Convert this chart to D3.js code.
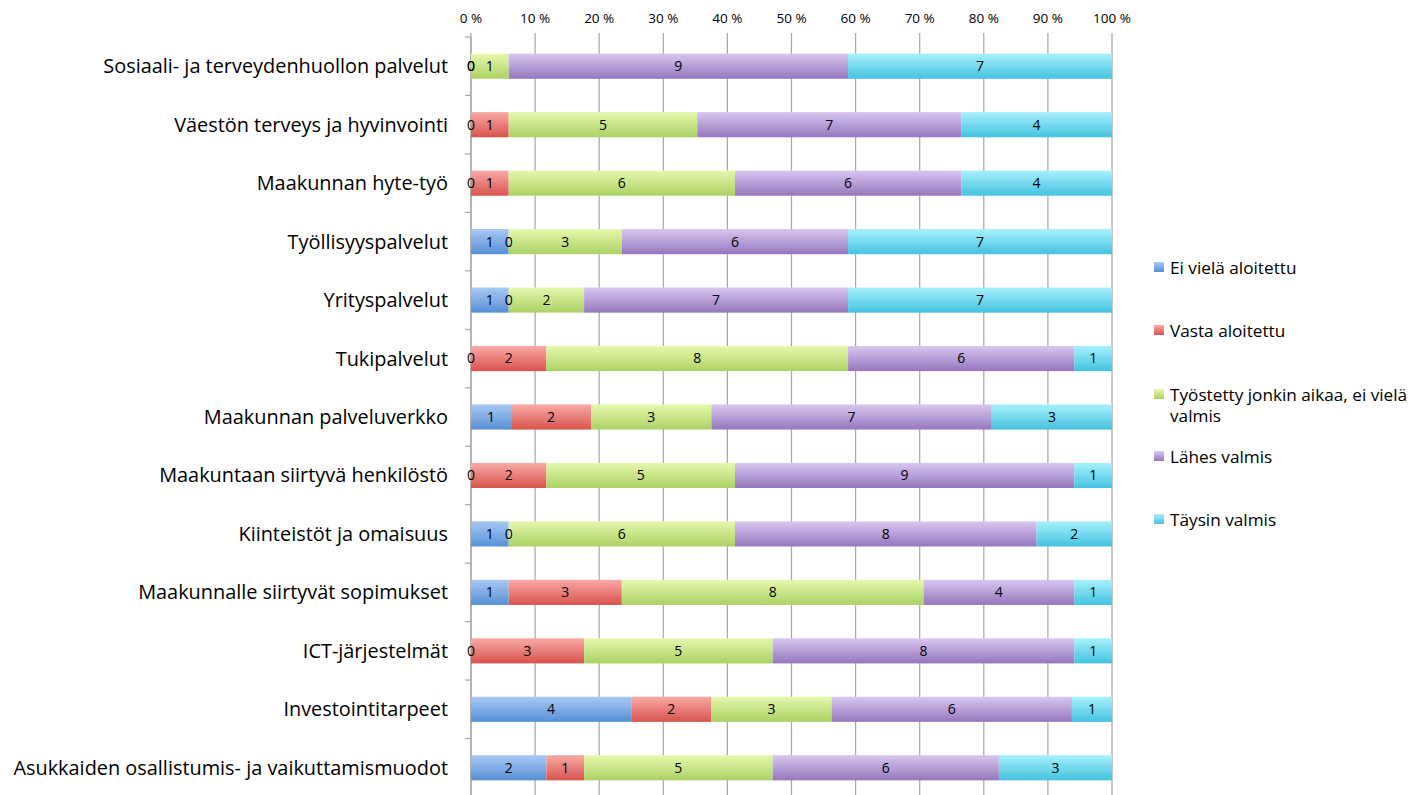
<!DOCTYPE html>
<html>
<head>
<meta charset="utf-8">
<script src="https://cdn.jsdelivr.net/npm/d3@7"></script>
<style>
  body { margin: 0; background: #fff; }
  text { font-family: "Open Sans", Lato, sans-serif; fill: #000; }
</style>
</head>
<body>
<div id="kaavio"></div>
<script>
const kategoriat = [
  "Sosiaali- ja terveydenhuollon palvelut",
  "Väestön terveys ja hyvinvointi",
  "Maakunnan hyte-työ",
  "Työllisyyspalvelut",
  "Yrityspalvelut",
  "Tukipalvelut",
  "Maakunnan palveluverkko",
  "Maakuntaan siirtyvä henkilöstö",
  "Kiinteistöt ja omaisuus",
  "Maakunnalle siirtyvät sopimukset",
  "ICT-järjestelmät",
  "Investointitarpeet",
  "Asukkaiden osallistumis- ja vaikuttamismuodot"
];
const sarjat = [
  "Ei vielä aloitettu",
  "Vasta aloitettu",
  "Työstetty jonkin aikaa, ei vielä valmis",
  "Lähes valmis",
  "Täysin valmis"
];
const eiVielaAloitettu = [0, 0, 0, 1, 1, 0, 1, 0, 1, 1, 0, 4, 2];
const vastaAloitettu   = [0, 1, 1, 0, 0, 2, 2, 2, 0, 3, 3, 2, 1];
const tyostetty        = [1, 5, 6, 3, 2, 8, 3, 5, 6, 8, 5, 3, 5];
const lahesValmis      = [9, 7, 6, 6, 7, 6, 7, 9, 8, 4, 8, 6, 6];
const taysinValmis     = [7, 4, 4, 7, 7, 1, 3, 1, 2, 1, 1, 1, 3];
const prosenttiTikit = [0, 10, 20, 30, 40, 50, 60, 70, 80, 90, 100];

// liukuvärit: [ylä, ala]
const varit = [
  ["#a9c8f3", "#5690d6"],
  ["#f8aaa6", "#d9534d"],
  ["#e6f8ad", "#acd164"],
  ["#d8c7f0", "#9577bd"],
  ["#a8f0fc", "#44c3df"]
];

const leveys = 1413, korkeus = 795;
const vasen = 471, oikea = 1112, yla = 37, ala = 797;

const arvot = [eiVielaAloitettu, vastaAloitettu, tyostetty, lahesValmis, taysinValmis];

const $svg = d3.select("#kaavio").append("svg")
  .attr("width", leveys)
  .attr("height", korkeus);

const defs = $svg.append("defs");
varit.forEach((v, i) => {
  const g = defs.append("linearGradient")
    .attr("id", "liuku" + i)
    .attr("x1", 0).attr("y1", 0).attr("x2", 0).attr("y2", 1);
  g.append("stop").attr("offset", "0%").attr("stop-color", v[0]);
  g.append("stop").attr("offset", "100%").attr("stop-color", v[1]);
});

const x = d3.scaleLinear().domain([0, 100]).range([vasen, oikea]);
const y = d3.scaleBand().domain(kategoriat).range([yla, ala]).paddingInner(0.57).paddingOuter(0.285);
const kaista = d3.scaleBand().domain(kategoriat).range([yla, ala]);

// pystyruudukko
$svg.append("g")
  .selectAll("line")
  .data(prosenttiTikit)
  .join("line")
  .attr("x1", d => x(d)).attr("x2", d => x(d))
  .attr("y1", yla - 4).attr("y2", ala)
  .attr("stroke", "#a6a6a6")
  .attr("stroke-width", 1.2);

// ylä-akselin tekstit
$svg.append("g")
  .selectAll("text")
  .data(prosenttiTikit)
  .join("text")
  .attr("x", d => x(d))
  .attr("y", 23)
  .attr("text-anchor", "middle")
  .attr("font-size", 13.5)
  .text(d => d + " %");

// vasen akseli
$svg.append("line")
  .attr("x1", vasen).attr("x2", vasen)
  .attr("y1", yla).attr("y2", ala)
  .attr("stroke", "#a6a6a6").attr("stroke-width", 1.2);
$svg.append("g")
  .selectAll("line")
  .data(kategoriat)
  .join("line")
  .attr("x1", vasen - 6).attr("x2", vasen)
  .attr("y1", d => kaista(d)).attr("y2", d => kaista(d))
  .attr("stroke", "#a6a6a6").attr("stroke-width", 1.2);

// pinotut palkit
const pinot = kategoriat.map((k, i) => {
  const summa = d3.sum(arvot, a => a[i]);
  let kertyma = 0;
  return arvot.map((a, s) => {
    const alku = kertyma;
    kertyma += a[i];
    return { kategoria: k, sarja: s, arvo: a[i], alku: alku / summa * 100, loppu: kertyma / summa * 100 };
  });
});

const rivit = $svg.append("g")
  .selectAll("g")
  .data(pinot)
  .join("g");

rivit.selectAll("rect")
  .data(d => d)
  .join("rect")
  .attr("x", d => x(d.alku))
  .attr("y", d => y(d.kategoria))
  .attr("width", d => x(d.loppu) - x(d.alku))
  .attr("height", y.bandwidth())
  .attr("fill", d => `url(#liuku${d.sarja})`);

rivit.selectAll("text")
  .data(d => d)
  .join("text")
  .attr("x", d => x((d.alku + d.loppu) / 2))
  .attr("y", d => y(d.kategoria) + y.bandwidth() / 2)
  .attr("dy", "0.35em")
  .attr("text-anchor", "middle")
  .attr("font-size", 14)
  .text(d => d.arvo);

// kategorioiden nimet
$svg.append("g")
  .selectAll("text")
  .data(kategoriat)
  .join("text")
  .attr("x", 448)
  .attr("y", d => kaista(d) + kaista.bandwidth() / 2)
  .attr("dy", "0.35em")
  .attr("text-anchor", "end")
  .attr("font-size", 19.9)
  .text(d => d);

// selite
const seliteY = [268, 331, 395, 457, 520];
const selite = $svg.append("g")
  .selectAll("g")
  .data(sarjat)
  .join("g")
  .attr("transform", (d, i) => `translate(1154,${seliteY[i]})`);
selite.append("rect")
  .attr("x", 0).attr("y", -6)
  .attr("width", 10).attr("height", 10)
  .attr("fill", (d, i) => `url(#liuku${i})`);
selite.append("text")
  .attr("x", 16)
  .attr("y", 0)
  .attr("dy", "0.35em")
  .attr("font-size", 17.2)
  .each(function (d) {
    const t = d3.select(this);
    if (d.startsWith("Työstetty")) {
      t.append("tspan").attr("x", 16).text("Työstetty jonkin aikaa, ei vielä");
      t.append("tspan").attr("x", 16).attr("dy", "1.2em").text("valmis");
    } else {
      t.text(d);
    }
  });
</script>
</body>
</html>
